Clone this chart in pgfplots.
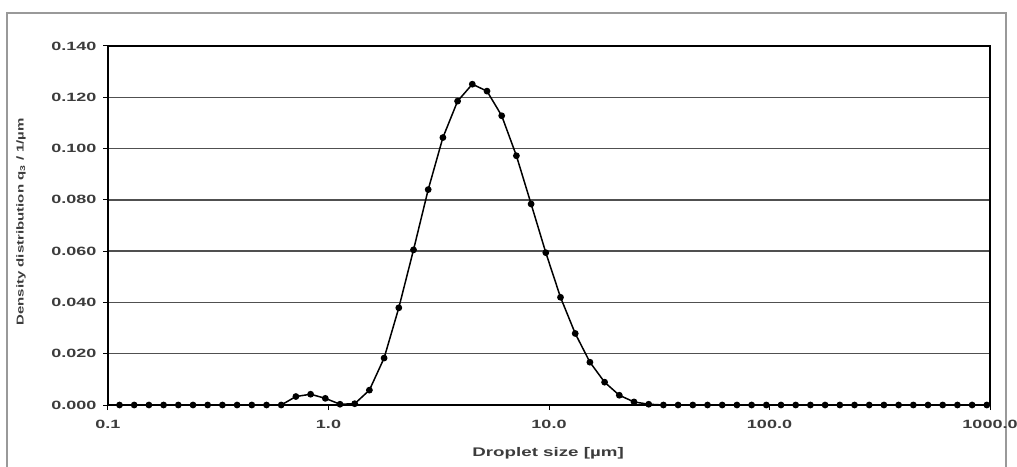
\documentclass[border=0pt]{standalone}
\usepackage{fontspec}
\setmainfont{Liberation Sans}
\newfontfamily\cf{Liberation Sans}[FakeStretch=1.5]
\usepackage{pgfplots}
\pgfplotsset{compat=1.18}
\usepackage{pgfplotstable}
\pgfplotstableread{
x y
0.11277 0
0.13148 0
0.15329 0
0.17872 0
0.20837 0
0.24295 0
0.28325 0
0.33025 0
0.38505 0
0.44894 0
0.52342 0
0.61026 0
0.71151 0.0033
0.82957 0.0042
0.9672 0.0026
1.1277 0.0003
1.3148 0.0005
1.5329 0.0058
1.7872 0.0183
2.0837 0.0379
2.4295 0.0605
2.8325 0.0840
3.3025 0.1043
3.8505 0.1185
4.4894 0.1251
5.2342 0.1224
6.1026 0.1128
7.1151 0.0972
8.2957 0.0784
9.672 0.0594
11.277 0.0420
13.148 0.0279
15.329 0.0167
17.872 0.0089
20.837 0.0038
24.295 0.0012
28.325 0.0003
33.025 0
38.505 0
44.894 0
52.342 0
61.026 0
71.151 0
82.957 0
96.72 0
112.77 0
131.48 0
153.29 0
178.72 0
208.37 0
242.95 0
283.25 0
330.25 0
385.05 0
448.94 0
523.42 0
610.26 0
711.51 0
829.57 0
967.2 0
}\dist
\definecolor{gridc}{RGB}{80,80,80}
\definecolor{txt}{RGB}{60,60,60}
\begin{document}
\begin{tikzpicture}[x=1pt,y=1pt]
\useasboundingbox (-108,-61) rectangle (909,405);
\draw[black!40, line width=1.5pt] (-101,-80) rectangle (898,392);
\begin{axis}[
  scale only axis, width=882pt, height=359pt,
  xmode=log, xmin=0.1, xmax=1000, ymin=0, ymax=0.14,
  xtick={0.1,1,10,100,1000},
  xticklabels={0.1,1.0,10.0,100.0,1000.0},
  ytick={0,0.02,0.04,0.06,0.08,0.1,0.12,0.14},
  yticklabels={0.000,0.020,0.040,0.060,0.080,0.100,0.120,0.140},
  xminorticks=false, yminorticks=false,
  xtick pos=bottom, ytick pos=left,
  ymajorgrids,
  major grid style={gridc, line width=1.5pt},
  tick align=outside, major tick length=5pt,
  tick style={black, line width=1pt},
  axis line style={black, line width=1.4pt},
  tick label style={font=\cf\bfseries\fontsize{12}{14}\selectfont, text=txt},
  yticklabel style={xshift=-3pt},
  xticklabel style={yshift=-7pt},
  xlabel={Droplet size [µm]},
  ylabel={Density distribution q\textsubscript{3} / 1/µm},
  xlabel style={font=\cf\bfseries\fontsize{12.5}{14}\selectfont, text=txt, at={(axis description cs:0.499,-0.1337)}, anchor=center},
  ylabel style={font=\cf\bfseries\fontsize{10}{12}\selectfont, text=txt, at={(axis description cs:-0.0986,0.51)}, anchor=center},
  clip=false,
]
\addplot[black, line width=1.5pt, mark=*, mark size=2.6pt, mark options={solid, fill=black}] table[x=x,y=y] {\dist};
\end{axis}
\end{tikzpicture}
\end{document}
